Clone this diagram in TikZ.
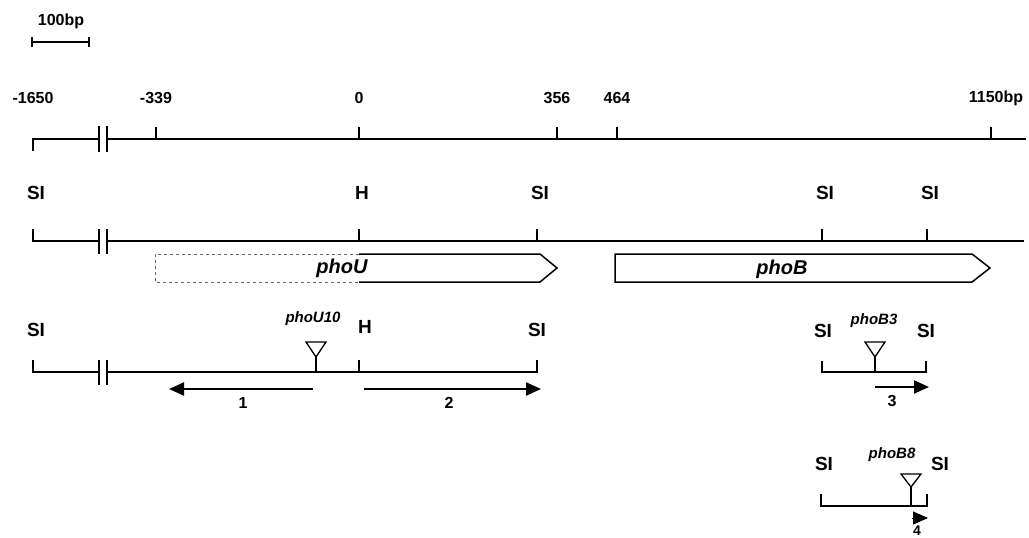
\documentclass[tikz,border=0pt]{standalone}
\usepackage{fontspec}
\setmainfont{Liberation Sans}
\usetikzlibrary{arrows.meta}
\tikzset{
  lbl/.style={font=\bfseries\fontsize{16}{16}\selectfont, inner sep=0pt},
  site/.style={font=\bfseries\fontsize{19}{19}\selectfont, inner sep=0pt},
  gene/.style={font=\bfseries\itshape\fontsize{20}{20}\selectfont, inner sep=0pt},
  mut/.style={font=\bfseries\itshape\fontsize{15}{15}\selectfont, inner sep=0pt},
  num/.style={font=\bfseries\fontsize{16}{16}\selectfont, inner sep=0pt},
  dna/.style={line width=1.6pt},
  tick/.style={line width=1.6pt},
  brk/.style={line width=2.4pt},
  genebox/.style={line width=1.5pt, line join=miter},
  ghost/.style={line width=0.8pt, dashed, draw=black!60},
  ins/.style={line width=1.3pt, fill=white},
  fwd/.style={line width=2.2pt, -{Triangle[length=15pt,width=13pt]}},
}
\begin{document}
\begin{tikzpicture}[x=1pt,y=-1pt]
\useasboundingbox (0,0) rectangle (1029,538);
% scale bar
\node[lbl] (sb) at (61,21) {100bp};
\coordinate (sbl) at (32,42);
\coordinate (sbr) at (89,42);
\draw[line width=1.3pt] (sbl) -- (sbr);
\draw[line width=1.3pt] ([yshift=-5]sbl) -- ([yshift=5]sbl);
\draw[line width=1.3pt] ([yshift=-5]sbr) -- ([yshift=5]sbr);

% ---------- row 1: ruler ----------
\coordinate (r1a) at (33,139);
\coordinate (r1b) at (99,139);
\coordinate (r1c) at (107,139);
\coordinate (r1d) at (1026,139);
\draw[dna] ([yshift=-12]r1a) -- (r1a) -- (r1b);
\draw[dna] (r1c) -- (r1d);
\draw[brk] (99,126) -- (99,152);
\draw[brk] (107,126) -- (107,152);
\foreach \x/\t/\n in {156/-339/a, 359/0/b, 557/356/c, 617/464/d}{
  \draw[tick] (\x,139) -- (\x,127);
  \node[lbl] (t\n) at (\x,98) {\t};
}
\node[lbl] (tm) at (33,98) {-1650};
\draw[tick] (991,139) -- (991,127);
\node[lbl] (te) at (996,98) {1150bp};

% ---------- row 2: restriction map ----------
\draw[dna] (33,229) -- (33,241) -- (99,241);
\draw[dna] (107,241) -- (1024,241);
\draw[brk] (99,229) -- (99,254);
\draw[brk] (107,229) -- (107,254);
\node[site] (s2a) at (36,193) {SI};
\foreach \x/\t/\n in {359/H/b, 537/SI/c, 822/SI/d, 927/SI/e}{
  \draw[tick] (\x,241) -- (\x,229);
  \node[site] (s2\n) at (\x+3,193) {\t};
}
% genes
\draw[ghost] (359,254) -- (155,254) -- (155,282) -- (359,282);
\draw[genebox] (359,254) -- (540,254) -- (557,268) -- (540,282) -- (359,282);
\node[gene] (phoU) at (342,268) {phoU};
\draw[genebox] (615,254) -- (972,254) -- (990,268) -- (972,282) -- (615,282) -- cycle;
\node[gene] (phoB) at (782,269) {phoB};

% ---------- row 3: phoU10 ----------
\node[site] (s3a) at (36,330) {SI};
\node[site] (s3b) at (365,327) {H};
\node[site] (s3c) at (537,330) {SI};
\node[mut] (m10) at (313,319) {phoU10};
\draw[dna] (33,360) -- (33,372) -- (99,372);
\draw[dna] (107,372) -- (537,372) -- (537,360);
\draw[brk] (99,360) -- (99,385);
\draw[brk] (107,360) -- (107,385);
\draw[tick] (359,372) -- (359,360);
\draw[line width=1.3pt] (316,372) -- (316,357);
\draw[ins] (306,342) -- (326,342) -- (316,357) -- cycle;
\coordinate (a1s) at (313,389);
\coordinate (a1e) at (169,389);
\coordinate (a2s) at (364,389);
\coordinate (a2e) at (541,389);
\draw[fwd] (a1s) -- (a1e);
\draw[fwd] (a2s) -- (a2e);
\node[num] (n1) at (243,403) {1};
\node[num] (n2) at (449,403) {2};

% ---------- row 3 right: phoB3 ----------
\node[site] (s3d) at (823,331) {SI};
\node[site] (s3e) at (926,331) {SI};
\node[mut] (mb3) at (874,321) {phoB3};
\draw[dna] (822,361) -- (822,372) -- (926,372) -- (926,361);
\draw[line width=1.3pt] (875,372) -- (875,357);
\draw[ins] (865,342) -- (885,342) -- (875,357) -- cycle;
\coordinate (a3s) at (875,387);
\coordinate (a3e) at (929,387);
\draw[fwd] (a3s) -- (a3e);
\node[num] (n3) at (892,401) {3};

% ---------- row 4: phoB8 ----------
\node[site] (s4a) at (824,464) {SI};
\node[site] (s4b) at (940,464) {SI};
\node[mut] (mb8) at (892,455) {phoB8};
\draw[dna] (821,494) -- (821,506) -- (927,506) -- (927,494);
\draw[line width=1.3pt] (911,506) -- (911,487);
\draw[ins] (901,474) -- (921,474) -- (911,487) -- cycle;
\coordinate (a4s) at (912,518);
\coordinate (a4e) at (928,518);
\draw[line width=1pt, -{Triangle[length=15pt,width=13pt]}] (a4s) -- (a4e);
\node[num, anchor=north, font=\bfseries\fontsize{14}{14}\selectfont] (n4) at (917,526) {4};
\end{tikzpicture}
\end{document}
